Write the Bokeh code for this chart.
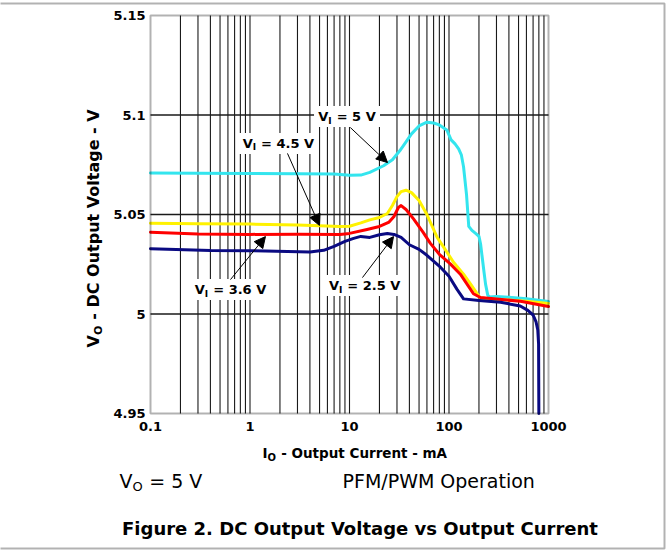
import math
from bokeh.plotting import figure
from bokeh.models import FixedTicker, Label, Arrow, NormalHead, BoxAnnotation
from bokeh.embed import file_html
from bokeh.resources import INLINE

# ---------------- data ----------------
io_5v = [0.1, 0.3, 1, 3, 7, 10, 13, 16, 22, 27, 32, 37, 42, 50, 60, 70, 80, 95, 105, 115,
         125, 133, 140, 150, 158, 170, 185, 200, 208, 215, 225, 233, 245, 255, 300, 400, 600, 1000]
vo_5v = [5.0708, 5.0707, 5.0706, 5.0705, 5.0704, 5.0697, 5.0698, 5.0712, 5.0745, 5.0775, 5.0820,
         5.0865, 5.0905, 5.0945, 5.0964, 5.0960, 5.0950, 5.0925, 5.0875, 5.0855, 5.0830, 5.0800,
         5.0740, 5.0600, 5.0440, 5.0420, 5.0405, 5.0390, 5.0350, 5.0290, 5.0210, 5.0150, 5.0095,
         5.0085, 5.0088, 5.0084, 5.0077, 5.0063]

io_45v = [0.1, 0.3, 1, 3, 5, 8, 10, 13, 16, 20, 24, 27, 30, 33, 37, 42, 50, 60, 76, 90, 111,
          140, 165, 190, 205, 250, 400, 600, 1000]
vo_45v = [5.0456, 5.0454, 5.0452, 5.0447, 5.0444, 5.0440, 5.0441, 5.0458, 5.0473, 5.0485, 5.0505,
          5.0545, 5.0590, 5.0615, 5.0622, 5.0610, 5.0570, 5.0500, 5.0385, 5.0330, 5.0260, 5.0200,
          5.0150, 5.0105, 5.0082, 5.0075, 5.0070, 5.0064, 5.0053]

io_36v = [0.1, 0.3, 1, 3, 8, 10, 15, 20, 25, 28, 31, 33, 37, 44, 55, 65, 80, 103, 130, 176,
          207, 300, 523, 1000]
vo_36v = [5.0411, 5.0402, 5.0400, 5.0401, 5.0400, 5.0405, 5.0425, 5.0440, 5.0462, 5.0490, 5.0535,
          5.0545, 5.0525, 5.0478, 5.0410, 5.0355, 5.0300, 5.0252, 5.0200, 5.0102, 5.0083, 5.0075,
          5.0064, 5.0038]

io_25v = [0.1, 0.4, 1, 4, 5.5, 7, 9, 11, 13, 16, 20, 24, 28, 33, 40, 50, 60, 82, 100, 120, 140,
          200, 330, 520, 620, 700, 750, 780, 795, 800]
vo_25v = [5.0328, 5.0319, 5.0318, 5.0311, 5.0320, 5.0340, 5.0365, 5.0380, 5.0390, 5.0385, 5.0398,
          5.0405, 5.0400, 5.0385, 5.0348, 5.0325, 5.0295, 5.0235, 5.0190, 5.0125, 5.0076, 5.0068,
          5.0059, 5.0040, 5.0018, 4.9995, 4.9960, 4.9920, 4.9850, 4.9500]

x_ticks = [0.1, 1, 10, 100, 1000]
x_tick_labels = ["0.1", "1", "10", "100", "1000"]
y_ticks = [4.95, 5.0, 5.05, 5.1, 5.15]
y_tick_labels = ["4.95", "5", "5.05", "5.1", "5.15"]

series_names = ["5 V", "4.5 V", "3.6 V", "2.5 V"]
series_colors = ["#33E5EE", "#FFF200", "#FF0000", "#0A0A82"]

# ---------------- geometry ----------------
W, H = 669, 550
FL, FR, FT, FB = 150, 548, 15, 413          # chart box in pixels
X0, X1, Y0, Y1 = 0.1, 1000, 4.95, 5.15      # chart box in data units
FONT = "DejaVu Sans"


def xd(px):
    """pixel -> data x on the log axis (used to place annotations)"""
    return 10 ** (math.log10(X0) + (px - FL) / (FR - FL) * (math.log10(X1) - math.log10(X0)))


def yd(py):
    return Y1 - (py - FT) / (FB - FT) * (Y1 - Y0)


# the plotting frame covers the whole canvas; the chart box sits inside it
p = figure(width=W, height=H, x_axis_type="log", x_range=(xd(0), xd(W)), y_range=(yd(H), yd(0)),
           output_backend="svg", toolbar_location=None,
           min_border=0, min_border_left=0, min_border_right=0, min_border_top=0, min_border_bottom=0)
p.background_fill_color = "white"
p.border_fill_color = "white"
p.outline_line_color = None
p.xgrid.visible = False
p.ygrid.visible = False

p.xaxis.fixed_location = Y0
p.yaxis.fixed_location = X0
p.xaxis.ticker = FixedTicker(ticks=x_ticks)
p.yaxis.ticker = FixedTicker(ticks=y_ticks)
p.xaxis.major_label_overrides = dict(zip(x_ticks, x_tick_labels))
p.yaxis.major_label_overrides = dict(zip(y_ticks, y_tick_labels))
for ax in (p.xaxis, p.yaxis):
    ax.axis_line_color = None
    ax.major_tick_line_color = None
    ax.minor_tick_line_color = None
    ax.major_tick_out = 0
    ax.major_tick_in = 0
    ax.major_label_text_font = FONT
    ax.major_label_text_font_style = "bold"
    ax.major_label_text_font_size = "13px"
    ax.major_label_text_color = "black"
p.xaxis.major_label_standoff = 8
p.yaxis.major_label_standoff = 5

# grid lines inside the chart box
grid_x = [m * 10.0 ** d for d in range(-1, 3) for m in range(1, 10) if not (m == 1 and d == -1)]
grid_y = [v for v in y_ticks if Y0 < v < Y1]
p.segment(x0=grid_x, x1=grid_x, y0=[Y0] * len(grid_x), y1=[Y1] * len(grid_x),
          line_color="#1a1a1a", line_width=1.1)
p.segment(x0=[X0] * len(grid_y), x1=[X1] * len(grid_y), y0=grid_y, y1=grid_y,
          line_color="#1a1a1a", line_width=1.4)

for xs, ys, c in zip([io_5v, io_45v, io_36v, io_25v], [vo_5v, vo_45v, vo_36v, vo_25v], series_colors):
    p.line(xs, ys, line_color=c, line_width=3, line_join="round", line_cap="round")

# chart box
p.add_layout(BoxAnnotation(left=X0, right=X1, bottom=Y0, top=Y1,
                           fill_color=None, fill_alpha=0, line_color="black", line_width=2))

# ---------------- helpers for subscripted text ----------------
W_BOLD = {' ': .348, '=': .838, '.': .38, '-': .415, 'V': .774, 'I': .372, 'O': .850, 'u': .712,
          't': .478, 'p': .716, 'C': .734, 'r': .493, 'e': .678, 'n': .712, 'm': 1.042, 'A': .774,
          'D': .830, 'o': .687, 'l': .343, 'a': .675, 'g': .716}
W_REG = {' ': .318, '=': .838, 'V': .684, 'O': .787}


def tw(s, size, bold=True):
    tab = W_BOLD if bold else W_REG
    return sum(tab.get(ch, .696 if bold else .636) for ch in s) * size


def sub_text(x, y, main, sub, rest, size, sub_size, bold=True, rotated=False,
             sub_drop=4.5, center=False):
    """main text, subscript, then ' ' + rest; x, y in data units"""
    style = "bold" if bold else "normal"
    w_main = tw(main, size, bold)
    w_sub = tw(sub, sub_size, bold) + 0.5
    w_gap = tw(" ", size, bold)
    total = w_main + w_sub + w_gap + tw(rest, size, bold)
    start = -total / 2 if center else 0.0
    common = dict(text_font=FONT, text_font_style=style, text_color="black",
                  text_align="left", text_baseline="middle")
    if not rotated:
        p.add_layout(Label(x=x, y=y, x_offset=start, text=main, text_font_size=f"{size}px", **common))
        p.add_layout(Label(x=x, y=y, x_offset=start + w_main, y_offset=-sub_drop, text=sub,
                           text_font_size=f"{sub_size}px", **common))
        p.add_layout(Label(x=x, y=y, x_offset=start + w_main + w_sub + w_gap, text=rest,
                           text_font_size=f"{size}px", **common))
    else:
        a = math.pi / 2
        p.add_layout(Label(x=x, y=y, angle=a, y_offset=start, text=main,
                           text_font_size=f"{size}px", **common))
        p.add_layout(Label(x=x, y=y, angle=a, x_offset=sub_drop, y_offset=start + w_main, text=sub,
                           text_font_size=f"{sub_size}px", **common))
        p.add_layout(Label(x=x, y=y, angle=a, y_offset=start + w_main + w_sub + w_gap, text=rest,
                           text_font_size=f"{size}px", **common))
    return total


# ---------------- curve annotations ----------------
ann_x = [9.44, 1.93, 0.637, 14.2]
ann_y = [5.0992, 5.0857, 5.0123, 5.0143]
ann_arrow = [((10.2, 5.0937), (24.1, 5.0761)),
             ((2.38, 5.0807), (4.99, 5.0445)),
             ((0.637, 5.0173), (1.43, 5.0389)),
             ((13.5, 5.0183), (27.7, 5.0389))]
widths = [tw("V", 13) + tw("I", 9) + tw(" = " + n, 13) + 9 for n in series_names]
p.rect(x=ann_x, y=ann_y, width=widths, height=[21] * 4, width_units="screen", height_units="screen",
       fill_color="white", line_color=None)
for (x0, y0), (x1, y1) in ann_arrow:
    p.add_layout(Arrow(x_start=x0, y_start=y0, x_end=x1, y_end=y1, line_color="black", line_width=1,
                       end=NormalHead(size=11, fill_color="black", line_color="black")))
for x, y, n in zip(ann_x, ann_y, series_names):
    sub_text(x, y, "V", "I", "= " + n, 13, 9, bold=True, center=True, sub_drop=4)

# ---------------- axis titles & captions ----------------
sub_text(xd(262), yd(452), "I", "O", "- Output Current - mA", 13.5, 10, bold=True, sub_drop=4.5)
sub_text(xd(93), yd(347), "V", "O", "- DC Output Voltage - V", 16, 11, bold=True, rotated=True,
         sub_drop=4.5)
sub_text(xd(119), yd(480), "V", "O", "= 5 V", 19, 13, bold=False, sub_drop=5.5)
p.add_layout(Label(x=xd(342), y=yd(480), text="PFM/PWM Operation",
                   text_font=FONT, text_font_size="19px", text_align="left", text_baseline="middle",
                   text_color="black"))
p.add_layout(Label(x=xd(359.5), y=yd(528),
                   text="Figure 2. DC Output Voltage vs Output Current",
                   text_font=FONT, text_font_size="18px", text_font_style="bold",
                   text_align="center", text_baseline="middle", text_color="black"))

# outer frame
p.add_layout(BoxAnnotation(left=xd(-6), right=xd(664), top=yd(3), bottom=yd(548),
                           fill_color=None, fill_alpha=0, line_color="black", line_width=2))

open("out.html", "w").write(file_html(p, INLINE))
